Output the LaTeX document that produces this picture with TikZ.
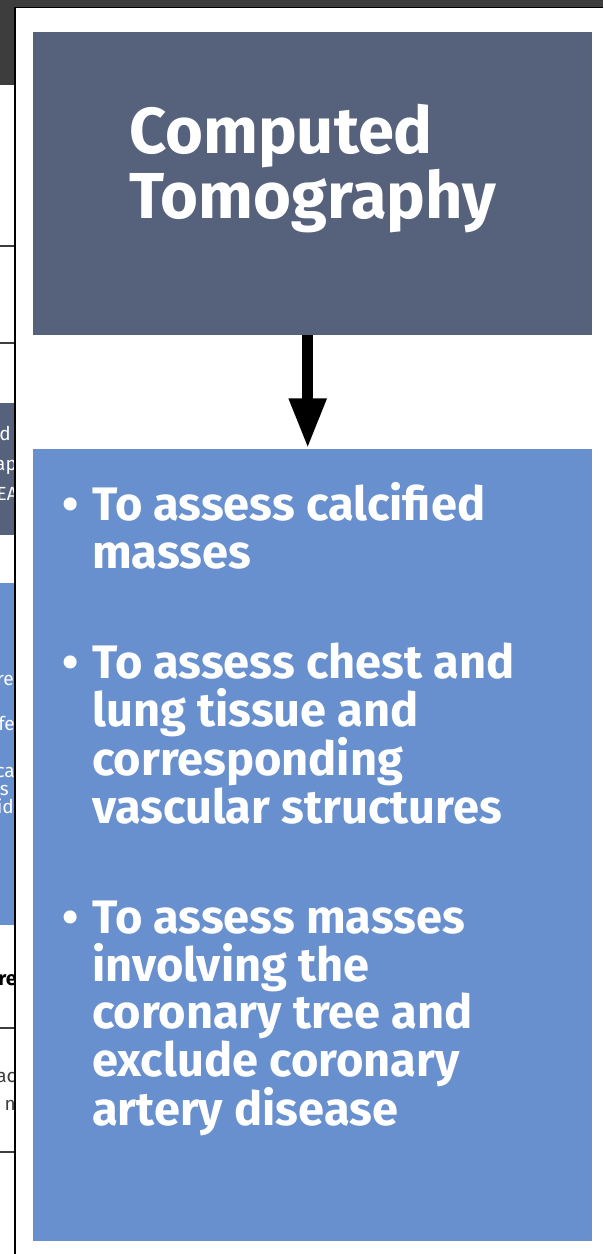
\documentclass[tikz,border=0pt]{standalone}
\usepackage{fontspec}
\setmainfont{Fira Sans}
\usetikzlibrary{arrows.meta,positioning}
\definecolor{figA}{HTML}{56617C}
\definecolor{figB}{HTML}{6890CF}
\definecolor{figC}{HTML}{3D3D3D}
\newcommand{\itm}{\makebox[30pt][l]{\textbullet}}
\newcommand{\ind}{\hspace*{30pt}}

\begin{document}
\begin{tikzpicture}[x=1pt,y=-1pt,>={Triangle[width=35pt,length=50pt]},
  box/.style={inner sep=0pt,minimum width=559pt},
  txt/.style={text=white,inner sep=0pt,align=left},
  frag/.style={inner sep=0pt,anchor=base east,font=\fontsize{19}{19}\selectfont}]
\useasboundingbox (0,0) rectangle (603,1254);
\fill[white] (0,0) rectangle (603,1254);
\fill[figC] (0,0) rectangle (603,7);
\draw[black,line width=1pt] (0,7.5) -- (603,7.5);
\begin{scope}
\clip (0,0) rectangle (14,1254);
\fill[figC] (0,0) rectangle (14,85);
\draw[figC,line width=1.5pt] (0,246) -- (14,246);
\draw[figC,line width=1.5pt] (0,343) -- (14,343);
\fill[figA] (0,403) rectangle (14,535);
\node[frag,text=white] (fd) at (11,440) {d};
\node[frag,text=white] (fa) at (17,470) {ap};
\node[frag,text=white] (fe) at (18,500) {EA};
\fill[figB] (0,583) rectangle (14,925);
\node[frag,text=white] (fre) at (14,685) {re};
\node[frag,text=white] (ffe) at (15,730) {fe};
\node[frag,text=white] (fca) at (15,777) {ca};
\node[frag,text=white] (fs) at (9,795) {s};
\node[frag,text=white] (fid) at (14,813) {id};
\node[frag,font=\bfseries\fontsize{20}{20}\selectfont] (fr) at (17,985) {re};
\draw[figC,line width=1.5pt] (0,1028) -- (14,1028);
\node[frag,text=figC] (fac) at (16,1082) {ac};
\node[frag,text=figC] (fn) at (16,1110) {n};
\draw[figC,line width=1.5pt] (0,1152) -- (14,1152);
\end{scope}
\draw[black,line width=2.5pt] (15,7) -- (15,1254);
\node[box,fill=figA,minimum height=303pt,anchor=north west] (ct) at (33,32) {};
\node[box,fill=figB,minimum height=792pt,below=113pt of ct] (uses) {};
\node[txt,font=\bfseries\fontsize{65}{63}\selectfont] (cttitle) at ([yshift=15pt]ct.center) {Computed\\Tomography};
\node[txt,font=\bfseries\fontsize{47}{47.5}\selectfont,anchor=north west] (usestext) at ([xshift=29pt,yshift=-34pt]uses.north west)
  {\itm To assess calcified\\ \ind masses\\[63pt]
   \itm To assess chest and\\ \ind lung tissue and\\ \ind corresponding\\ \ind vascular structures\\[63pt]
   \itm To assess masses\\ \ind involving the\\ \ind coronary tree and\\ \ind exclude coronary\\ \ind artery disease};
\draw[->,line width=11pt] ([xshift=-5pt]ct.south) -- ([xshift=-5pt]uses.north);
\end{tikzpicture}
\end{document}
